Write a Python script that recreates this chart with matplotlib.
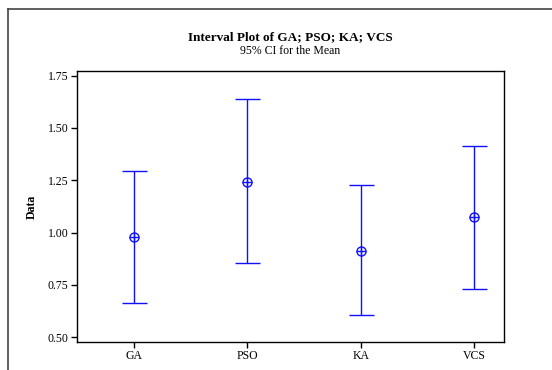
import numpy as np
import matplotlib.pyplot as plt
from matplotlib.lines import Line2D

# interval data
groups = ['GA', 'PSO', 'KA', 'VCS']
means = [0.979, 1.243, 0.912, 1.075]
upper = [1.292, 1.640, 1.226, 1.415]
lower = [0.665, 0.853, 0.605, 0.732]
yticks = [0.50, 0.75, 1.00, 1.25, 1.50, 1.75]

plt.rcParams['font.family'] = ['Liberation Serif', 'DejaVu Serif']

W, H = 552, 370
fig = plt.figure(figsize=(W / 100, H / 100), dpi=100)
ax = fig.add_axes([77 / W, 1 - 342 / H, 427 / W, 271 / H])

x = np.arange(1, len(groups) + 1)
m = np.array(means)
yerr = [m - np.array(lower), np.array(upper) - m]
ax.errorbar(x, m, yerr=yerr, fmt='none', ecolor='#1010ff', elinewidth=1.0,
            capsize=9, capthick=1.0)
ax.plot(x, m, 'o', ms=6.5, mfc='none', mec='#1010ff', mew=1.0)
ax.plot(x, m, '+', ms=6.5, mec='#1010ff', mew=1.0)

ax.set_xlim(0.5, 4.26)
ax.set_ylim(0.4775, 1.772)
ax.set_xticks(x)
ax.set_xticklabels(groups)
ax.set_yticks(yticks)
ax.set_yticklabels(['%.2f' % t for t in yticks])
ax.tick_params(axis='both', direction='out', length=4, width=1, labelsize=8.5,
               top=False, right=False, pad=2)
for s in ax.spines.values():
    s.set_linewidth(1.0)
ax.set_ylabel('Data', fontsize=8.5, fontweight='bold', labelpad=7)

fig.text(0.5 * (77 + 504) / W, 1 - 37 / H, 'Interval Plot of GA; PSO; KA; VCS',
         ha='center', va='center', fontsize=9.5, fontweight='bold')
fig.text(0.5 * (77 + 504) / W, 1 - 51 / H, '95% CI for the Mean',
         ha='center', va='center', fontsize=8.5)

# outer frame
fig.add_artist(Line2D([8 / W, 8 / W], [0, 1 - 9 / H], transform=fig.transFigure,
                      color='#444444', lw=1.2))
fig.add_artist(Line2D([8 / W, 1], [1 - 9 / H, 1 - 9 / H], transform=fig.transFigure,
                      color='#444444', lw=1.2))

fig.savefig('out.png', dpi=100)
